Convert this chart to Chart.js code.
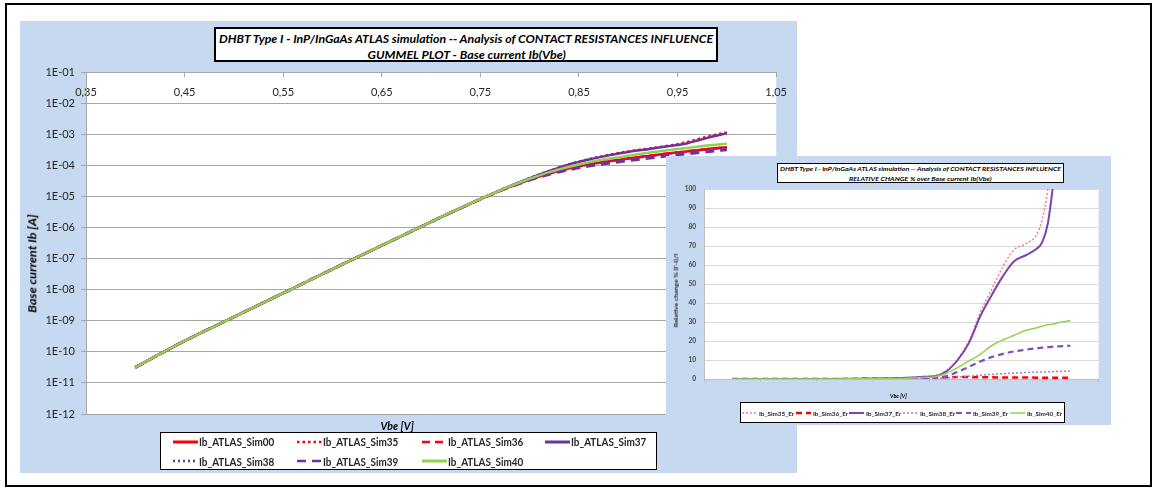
<!DOCTYPE html>
<html>
<head>
<meta charset="utf-8">
<title>DHBT Type I - Gummel plot</title>
<script src="https://cdn.jsdelivr.net/npm/chart.js"></script>
<style>
  html, body { margin: 0; padding: 0; background: #fff; }
  body { width: 1162px; height: 489px; position: relative; overflow: hidden; font-family: Lato, 'Open Sans', sans-serif; }
  .frame { position: absolute; left: 5px; top: 3px; width: 1147px; height: 484px; border: 2.5px solid #000; box-sizing: border-box; }
  .panel { position: absolute; background: #C6D9F1; }
  .panel canvas { position: absolute; left: 0; top: 0; }
  .box { position: absolute; background: #fff; border: 2px solid #000; box-sizing: border-box; }
  .txt { position: absolute; white-space: nowrap; line-height: 1; }
  .sample { position: absolute; }
</style>
</head>
<body>
<div class="frame"></div>

<div class="panel" id="mainPanel" style="left:20px;top:21px;width:777px;height:452px;">
  <canvas id="mainChart" width="777" height="452" style="width:777px;height:452px;"></canvas>
</div>
<div class="box" id="mainTitle" style="left:214px;top:27px;width:504px;height:35px;"></div>
<div class="box" id="mainLegend" style="left:160px;top:432px;width:497px;height:38px;border-width:1.5px;"></div>

<div class="panel" id="errPanel" style="left:666px;top:156px;width:445px;height:269px;">
  <canvas id="errChart" width="445" height="269" style="width:445px;height:269px;"></canvas>
</div>
<div class="box" id="errTitle" style="left:777px;top:163px;width:287px;height:20px;border-width:1.5px;"></div>
<div class="box" id="errLegend" style="left:740px;top:402px;width:325px;height:21px;border-width:1.5px;overflow:hidden;"></div>

<script>
// ---------- Gummel plot data: base current Ib [A] versus Vbe [V] ----------
const vbe = [0.40, 0.45, 0.50, 0.55, 0.60, 0.65, 0.70, 0.72, 0.74, 0.76, 0.78, 0.80,
             0.82, 0.84, 0.86, 0.88, 0.90, 0.92, 0.94, 0.95, 0.96, 0.97, 0.98, 1.00];

const ibSim00 = [3.16e-11, 2.24e-10, 1.32e-9, 7.76e-9, 4.57e-8, 2.63e-7, 1.51e-6, 3.02e-6, 5.89e-6, 1.12e-5, 2.04e-5, 3.47e-5,
                 5.50e-5, 7.94e-5, 1.07e-4, 1.35e-4, 1.66e-4, 2.00e-4, 2.40e-4, 2.60e-4, 2.82e-4, 3.05e-4, 3.31e-4, 3.80e-4];
const ibSim35 = [3.16e-11, 2.24e-10, 1.32e-9, 7.76e-9, 4.57e-8, 2.63e-7, 1.52e-6, 3.04e-6, 5.96e-6, 1.14e-5, 2.13e-5, 3.83e-5,
                 6.60e-5, 1.07e-4, 1.57e-4, 2.15e-4, 2.79e-4, 3.42e-4, 4.22e-4, 4.78e-4, 5.64e-4, 6.86e-4, 8.28e-4, 1.14e-3];
const ibSim36 = [3.16e-11, 2.24e-10, 1.32e-9, 7.76e-9, 4.57e-8, 2.63e-7, 1.51e-6, 3.02e-6, 5.87e-6, 1.11e-5, 2.02e-5, 3.44e-5,
                 5.45e-5, 7.87e-5, 1.06e-4, 1.34e-4, 1.65e-4, 1.98e-4, 2.38e-4, 2.58e-4, 2.80e-4, 3.03e-4, 3.29e-4, 3.77e-4];
const ibSim37 = [3.16e-11, 2.24e-10, 1.32e-9, 7.76e-9, 4.57e-8, 2.63e-7, 1.52e-6, 3.04e-6, 5.96e-6, 1.14e-5, 2.12e-5, 3.82e-5,
                 6.54e-5, 1.06e-4, 1.54e-4, 2.08e-4, 2.69e-4, 3.30e-4, 4.06e-4, 4.47e-4, 5.14e-4, 6.24e-4, 7.62e-4, 1.08e-3];
const ibSim38 = [3.16e-11, 2.24e-10, 1.32e-9, 7.76e-9, 4.57e-8, 2.63e-7, 1.51e-6, 3.02e-6, 5.88e-6, 1.12e-5, 2.03e-5, 3.44e-5,
                 5.42e-5, 7.78e-5, 1.04e-4, 1.31e-4, 1.61e-4, 1.93e-4, 2.31e-4, 2.50e-4, 2.71e-4, 2.93e-4, 3.18e-4, 3.64e-4];
const ibSim39 = [3.16e-11, 2.24e-10, 1.32e-9, 7.76e-9, 4.57e-8, 2.63e-7, 1.51e-6, 3.01e-6, 5.86e-6, 1.11e-5, 2.01e-5, 3.34e-5,
                 5.15e-5, 7.21e-5, 9.47e-5, 1.17e-4, 1.42e-4, 1.69e-4, 2.01e-4, 2.17e-4, 2.35e-4, 2.53e-4, 2.74e-4, 3.14e-4];
const ibSim40 = [3.16e-11, 2.24e-10, 1.32e-9, 7.76e-9, 4.57e-8, 2.63e-7, 1.51e-6, 3.03e-6, 5.94e-6, 1.13e-5, 2.10e-5, 3.68e-5,
                 6.02e-5, 8.97e-5, 1.26e-4, 1.63e-4, 2.04e-4, 2.51e-4, 3.05e-4, 3.32e-4, 3.62e-4, 3.93e-4, 4.29e-4, 4.97e-4];

const seriesNames = ['Ib_ATLAS_Sim00', 'Ib_ATLAS_Sim35', 'Ib_ATLAS_Sim36', 'Ib_ATLAS_Sim37',
                     'Ib_ATLAS_Sim38', 'Ib_ATLAS_Sim39', 'Ib_ATLAS_Sim40'];

// ---------- Relative change % of the base current ----------
const errSim35 = [0, 0, 0, 0, 0.1, 0.2, 0.5, 0.8, 1.3, 1.8, 4.5, 10.5, 20, 35, 47, 59, 68, 71, 76, 84, 100, 125, 150, 200];
const errSim36 = [0, 0, 0, 0, 0, 0.1, 0.1, 0.2, 0.3, 0.5, 0.9, 1.0, 1.0, 0.9, 0.9, 0.8, 0.8, 0.8, 0.7, 0.7, 0.7, 0.7, 0.7, 0.7];
const errSim37 = [0, 0, 0, 0, 0.1, 0.2, 0.5, 0.8, 1.2, 1.5, 4, 10, 19, 33, 44, 54, 62, 65, 68.5, 72, 82, 104, 130, 185];
const errSim38 = [0, 0, 0, 0, 0, 0, 0.1, 0.1, 0.2, 0.3, 0.6, 1.0, 1.5, 2.0, 2.4, 2.8, 3.1, 3.4, 3.6, 3.7, 3.8, 3.9, 4.0, 4.2];
const errSim39 = [0, 0, 0, 0, 0, 0.1, 0.2, 0.3, 0.5, 0.8, 1.6, 3.8, 6.4, 9.2, 11.5, 13.2, 14.5, 15.4, 16.2, 16.5, 16.8, 17.0, 17.2, 17.5];
const errSim40 = [0, 0, 0, 0, 0.1, 0.2, 0.3, 0.5, 0.8, 1.2, 3, 6, 9.5, 13, 17.5, 20.5, 23, 25.5, 27, 27.8, 28.5, 29, 29.7, 30.8];

const errNames = ['Ib_Sim35_Er', 'Ib_Sim36_Er', 'Ib_Sim37_Er', 'Ib_Sim38_Er', 'Ib_Sim39_Er', 'Ib_Sim40_Er'];

// ---------- Tick values and labels ----------
const xTickValues = [0.35, 0.45, 0.55, 0.65, 0.75, 0.85, 0.95, 1.05];
const xTickLabels = ['0,35', '0,45', '0,55', '0,65', '0,75', '0,85', '0,95', '1,05'];
const yTickValues = [1e-12, 1e-11, 1e-10, 1e-9, 1e-8, 1e-7, 1e-6, 1e-5, 1e-4, 1e-3, 1e-2, 1e-1];
const yTickLabels = ['1E-12', '1E-11', '1E-10', '1E-09', '1E-08', '1E-07', '1E-06', '1E-05', '1E-04', '1E-03', '1E-02', '1E-01'];
const errTickValues = [0, 10, 20, 30, 40, 50, 60, 70, 80, 90, 100];
const errTickLabels = ['0', '10', '20', '30', '40', '50', '60', '70', '80', '90', '100'];

// ---------- Styles ----------
const mainSeries = [ibSim00, ibSim35, ibSim36, ibSim37, ibSim38, ibSim39, ibSim40];
const mainStyles = [
  { color: '#FF0000', width: 2.5, dash: [] },
  { color: '#FF0000', width: 2.5, dash: [2.5, 3] },
  { color: '#FF0000', width: 2.5, dash: [8, 5] },
  { color: '#7030A0', width: 2.5, dash: [] },
  { color: '#7030A0', width: 2, dash: [2, 3] },
  { color: '#7030A0', width: 3, dash: [9, 6] },
  { color: '#92D050', width: 2.5, dash: [] }
];
const errSeries = [errSim35, errSim36, errSim37, errSim38, errSim39, errSim40];
const errStyles = [
  { color: '#FF7C80', width: 1.5, dash: [2, 2] },
  { color: '#FF0000', width: 2.5, dash: [6, 4] },
  { color: '#7A45B0', width: 2, dash: [] },
  { color: '#A07CD0', width: 1.5, dash: [2, 2] },
  { color: '#8050B8', width: 2.2, dash: [6, 4] },
  { color: '#92D050', width: 1.5, dash: [] }
];

const FONT = "Lato, 'Open Sans', sans-serif";
Chart.defaults.font.family = FONT;

// white plot area behind the curves
const plotBg = {
  id: 'plotBg',
  beforeDraw(chart, args, opts) {
    const { ctx, chartArea: a } = chart;
    ctx.save();
    ctx.fillStyle = opts.color || '#fff';
    ctx.fillRect(a.left, a.top, a.right - a.left, a.bottom - a.top);
    ctx.restore();
  }
};

function buildSets(series, styles, names) {
  return series.map((arr, i) => ({
    label: names[i],
    data: vbe.map((v, k) => ({ x: v, y: arr[k] })),
    borderColor: styles[i].color,
    borderWidth: styles[i].width,
    borderDash: styles[i].dash,
    pointRadius: 0,
    fill: false,
    cubicInterpolationMode: 'monotone',
    order: series.length - i
  }));
}

// ---------- Gummel plot ----------
new Chart(document.getElementById('mainChart'), {
  type: 'line',
  data: { datasets: buildSets(mainSeries, mainStyles, seriesNames) },
  plugins: [plotBg],
  options: {
    responsive: false,
    animation: false,
    devicePixelRatio: 1,
    layout: { padding: { left: 10, top: 51, right: 14, bottom: 59 } },
    plugins: { legend: { display: false }, tooltip: { enabled: false }, plotBg: { color: '#FFFFFF' } },
    scales: {
      x: {
        type: 'linear', min: 0.35, max: 1.05,
        position: { y: 0.1 },
        afterFit(s) { s.height = 0; },
        afterBuildTicks(s) { s.ticks = xTickValues.map(v => ({ value: v })); },
        grid: { drawOnChartArea: false, drawTicks: true, tickLength: 4, color: '#A6A6A6' },
        border: { display: true, color: '#A6A6A6' },
        ticks: { padding: 10, color: '#262626', font: { size: 11 }, autoSkip: false, maxRotation: 0,
                 callback: (v, i) => xTickLabels[i] }
      },
      y: {
        type: 'logarithmic', min: 1e-12, max: 1e-1, position: 'left',
        afterFit(s) { s.width = 56; },
        afterBuildTicks(s) { s.ticks = yTickValues.map(v => ({ value: v })); },
        grid: { color: '#A6A6A6', tickLength: 5 },
        border: { color: '#A6A6A6' },
        ticks: { padding: 6, color: '#262626', font: { size: 11 }, autoSkip: false,
                 callback: (v, i) => yTickLabels[i] }
      }
    }
  }
});

// ---------- Relative change chart ----------
new Chart(document.getElementById('errChart'), {
  type: 'line',
  data: { datasets: buildSets(errSeries, errStyles, errNames) },
  plugins: [plotBg],
  options: {
    responsive: false,
    animation: false,
    devicePixelRatio: 1,
    layout: { padding: { left: 10, top: 33, right: 9, bottom: 46 } },
    plugins: { legend: { display: false }, tooltip: { enabled: false }, plotBg: { color: '#FFFFFF' } },
    scales: {
      x: {
        type: 'linear', min: 0.35, max: 1.05, position: 'bottom',
        afterFit(s) { s.height = 0; },
        afterBuildTicks(s) { s.ticks = xTickValues.map(v => ({ value: v })); },
        grid: { drawOnChartArea: false, drawTicks: true, tickLength: 3, color: '#BFBFBF' },
        border: { display: true, color: '#BFBFBF' },
        ticks: { padding: 6, color: '#7F7F7F', font: { size: 6.5 }, autoSkip: false, maxRotation: 0,
                 callback: (v, i) => xTickLabels[i] }
      },
      y: {
        type: 'linear', min: 0, max: 100, position: 'left',
        afterFit(s) { s.width = 28; },
        afterBuildTicks(s) { s.ticks = errTickValues.map(v => ({ value: v })); },
        grid: { color: '#D9D9D9', tickLength: 4 },
        border: { color: '#BFBFBF' },
        ticks: { padding: 4, color: '#404040', font: { size: 6.5, weight: 'bold' }, autoSkip: false,
                 callback: (v, i) => errTickLabels[i] }
      }
    }
  }
});

// ---------- Titles, axis titles and legends ----------
// text placed by its centre (or left edge) and squeezed to a given width
function addText(text, o) {
  const el = document.createElement('div');
  el.className = 'txt';
  el.textContent = text;
  el.style.font = o.font;
  el.style.color = o.color || '#000';
  document.body.appendChild(el);
  const w = el.offsetWidth, h = el.offsetHeight;
  const s = o.w ? o.w / w : 1;
  el.style.top = (o.y - h / 2) + 'px';
  if (o.anchor === 'left') {
    el.style.left = o.x + 'px';
    el.style.transformOrigin = '0 50%';
    el.style.transform = 'scaleX(' + s + ')';
  } else {
    el.style.left = (o.x - w / 2) + 'px';
    el.style.transform = (o.rot ? 'rotate(' + o.rot + 'deg) ' : '') + 'scaleX(' + s + ')';
  }
  return el;
}

function addSample(style, x, y, len, thick) {
  const ns = 'http://www.w3.org/2000/svg';
  const svg = document.createElementNS(ns, 'svg');
  svg.setAttribute('class', 'sample');
  svg.setAttribute('width', len);
  svg.setAttribute('height', 8);
  svg.style.left = x + 'px';
  svg.style.top = (y - 4) + 'px';
  const ln = document.createElementNS(ns, 'line');
  ln.setAttribute('x1', 0); ln.setAttribute('x2', len);
  ln.setAttribute('y1', 4); ln.setAttribute('y2', 4);
  ln.setAttribute('stroke', style.color);
  ln.setAttribute('stroke-width', thick || style.width);
  if (style.dash.length) ln.setAttribute('stroke-dasharray', style.dash.join(' '));
  svg.appendChild(ln);
  document.body.appendChild(svg);
}

const BI = (size) => 'italic bold ' + size + 'px ' + FONT;
const B = (size) => 'bold ' + size + 'px ' + FONT;

addText('DHBT Type I - InP/InGaAs ATLAS simulation -- Analysis of CONTACT RESISTANCES INFLUENCE',
        { x: 466, y: 38, w: 494, font: BI(11.5) });
addText('GUMMEL PLOT - Base current Ib(Vbe)', { x: 466, y: 54, w: 198, font: BI(11.5) });
addText('Base current Ib [A]', { x: 32, y: 263, w: 99, rot: -90, font: BI(11.5) });
addText('Vbe [V]', { x: 397, y: 425, w: 33, font: BI(11.5) });

const mainCols = [173, 297, 422, 545];
seriesNames.forEach((name, i) => {
  const col = mainCols[i % 4];
  const row = i < 4 ? 441.5 : 461;
  addSample(mainStyles[i], col, row, 25, mainStyles[i].dash.length ? 2.5 : 3);
  addText(name, { x: col + 26, y: row, w: 75, anchor: 'left', font: B(11), color: '#262626' });
});

addText('DHBT Type I - InP/InGaAs ATLAS simulation -- Analysis of CONTACT RESISTANCES INFLUENCE',
        { x: 920, y: 168.5, w: 281, font: BI(6) });
addText('RELATIVE CHANGE % over Base current Ib(Vbe)', { x: 920, y: 178, w: 143, font: BI(6) });
addText("Relative change % (I'-I)/I", { x: 675, y: 290, w: 74, rot: -90, font: B(6), color: '#262626' });
addText('Vbe [V]', { x: 898, y: 395, w: 17, font: BI(6) });

const errCols = [742, 795.5, 849, 902.5, 956, 1009.5];
const errLegend = document.getElementById('errLegend');
errNames.forEach((name, i) => {
  addSample(errStyles[i], errCols[i], 413, 15, errStyles[i].width);
  const el = addText(name, { x: errCols[i] + 17, y: 413, w: 35, anchor: 'left', font: B(6), color: '#262626' });
  if (i === errNames.length - 1) {
    // last entry runs past the legend frame and is cut at its edge
    el.style.clipPath = 'inset(0 ' + Math.max(0, (errCols[i] + 17 + 35) - 1063.5) * (el.offsetWidth / 35) + 'px 0 0)';
  }
});
</script>
</body>
</html>
